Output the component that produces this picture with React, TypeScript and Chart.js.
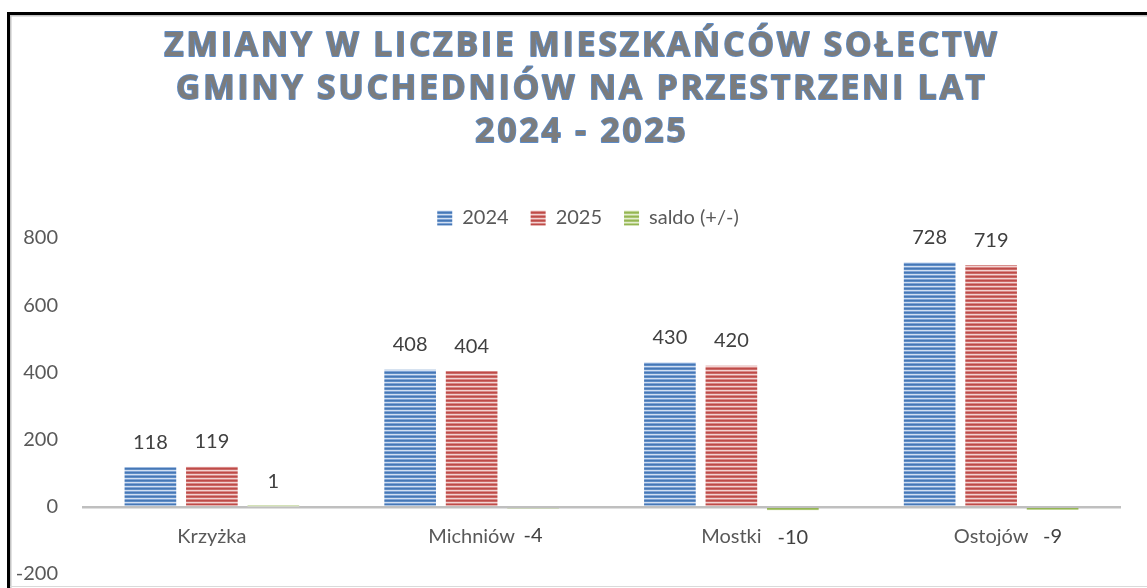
import React, { useEffect, useRef } from "react";
import { Chart, registerables } from "chart.js";

Chart.register(...registerables);

const titleLines = [
  "ZMIANY W LICZBIE MIESZKAŃCÓW SOŁECTW",
  "GMINY SUCHEDNIÓW NA PRZESTRZENI LAT",
  "2024 - 2025",
];
const categories = ["Krzyżka", "Michniów", "Mostki", "Ostojów"];
const seriesNames = ["2024", "2025", "saldo (+/-)"];
const values2024 = [118, 408, 430, 728];
const values2025 = [119, 404, 420, 719];
const valuesSaldo = [1, -4, -10, -9];
const yTicks = { min: -200, max: 800, step: 200 };

const FONT = "Lato, 'Open Sans', sans-serif";

function stripePattern(rows: string[]) {
  const c = document.createElement("canvas");
  c.width = 8;
  c.height = rows.length;
  const g = c.getContext("2d")!;
  rows.forEach((col, i) => {
    g.fillStyle = col;
    g.fillRect(0, i, 8, 1);
  });
  const main = document.createElement("canvas").getContext("2d")!;
  return main.createPattern(c, "repeat")!;
}

const framePlugin = {
  id: "frame",
  beforeDraw(chart: any) {
    const ctx = chart.ctx;
    ctx.save();
    ctx.fillStyle = "#ffffff";
    ctx.fillRect(0, 0, chart.width, chart.height);
    ctx.fillStyle = "#000000";
    ctx.fillRect(7, 12, chart.width - 7, 3);
    ctx.fillRect(7, 12, 3, chart.height - 12);
    ctx.fillStyle = "#C4C4C4";
    ctx.fillRect(10, 15, chart.width - 10, 1.5);
    ctx.fillRect(10, 15, 1.5, chart.height - 15);
    ctx.fillStyle = "#DADADA";
    ctx.fillRect(10, chart.height - 2, chart.width - 10, 1);
    ctx.restore();
  },
};

const titlePlugin = {
  id: "fancyTitle",
  afterDraw(chart: any) {
    const ctx = chart.ctx;
    ctx.save();
    ctx.textAlign = "center";
    ctx.textBaseline = "middle";
    (ctx as any).letterSpacing = "3px";
    ctx.font = `bold 32px 'Open Sans', sans-serif`;
    const w = ctx.measureText(titleLines[0]).width;
    const size = Math.round(((32 * 840) / w) * 10) / 10;
    ctx.font = `bold ${size}px 'Open Sans', sans-serif`;
    const ys = [47, 90, 133];
    titleLines.forEach((t, i) => {
      ctx.lineJoin = "round";
      ctx.lineWidth = 1.8;
      ctx.strokeStyle = "#5B8BC8";
      ctx.strokeText(t, 582, ys[i]);
      ctx.fillStyle = "#7C7C7C";
      ctx.fillText(t, 582, ys[i]);
    });
    ctx.restore();
  },
};

const labelsPlugin = {
  id: "valueLabels",
  afterDatasetsDraw(chart: any) {
    const ctx = chart.ctx;
    const xs = chart.scales.x;
    const ys = chart.scales.y;
    ctx.save();
    ctx.textAlign = "center";
    ctx.textBaseline = "middle";
    ctx.font = `20px ${FONT}`;
    ctx.fillStyle = "#595959";
    const zero = ys.getPixelForValue(0);
    categories.forEach((c, i) => {
      ctx.fillText(c, xs.getPixelForValue(i), zero + 30);
    });
    ctx.fillStyle = "#404040";
    chart.data.datasets.forEach((ds: any, di: number) => {
      const meta = chart.getDatasetMeta(di);
      meta.data.forEach((el: any, i: number) => {
        const v = ds.data[i];
        const y = v >= 0 ? el.y - 25 : el.y + 27;
        ctx.fillText(String(v), el.x, y);
      });
    });
    ctx.restore();
  },
};

export default function App() {
  const ref = useRef<HTMLCanvasElement>(null);
  useEffect(() => {
    const blue = stripePattern(["#4677B5", "#5F8DC6", "#D2DFF1", "#7EA3D5"]);
    const red = stripePattern(["#BE4B48", "#CB6966", "#F2D3D2", "#D88886"]);
    const green = stripePattern(["#94B553", "#AAC672", "#E4EDD0", "#BDD38E"]);
    const chart = new Chart(ref.current!, {
      type: "bar",
      data: {
        labels: categories,
        datasets: [
          { label: seriesNames[0], data: values2024, backgroundColor: blue },
          { label: seriesNames[1], data: values2025, backgroundColor: red },
          { label: seriesNames[2], data: valuesSaldo, backgroundColor: green },
        ],
      },
      options: {
        animation: false,
        responsive: false,
        devicePixelRatio: 1,
        layout: { padding: { left: 11, right: -18, top: 186, bottom: 14 } },
        datasets: { bar: { categoryPercentage: 0.71, barPercentage: 0.84 } },
        plugins: {
          title: { display: false },
          tooltip: { enabled: false },
          legend: {
            display: true,
            position: "top",
            labels: {
              boxWidth: 15,
              boxHeight: 15,
              padding: 22,
              color: "#595959",
              font: { family: FONT, size: 20 },
            },
          },
        },
        scales: {
          x: { display: false },
          y: {
            z: 1,
            position: "left",
            min: yTicks.min,
            max: yTicks.max,
            afterFit: (s: any) => {
              s.width = 71;
              s.paddingTop = 12;
              s.paddingBottom = 12;
            },
            border: { display: false },
            grid: {
              drawTicks: false,
              lineWidth: 2.5,
              color: (c: any) => (c.tick && c.tick.value === 0 ? "#BFBFBF" : "rgba(0,0,0,0)"),
            },
            ticks: {
              stepSize: yTicks.step,
              padding: 24,
              color: "#595959",
              font: { family: FONT, size: 20 },
            },
          },
          y2: {
            position: "right",
            display: true,
            min: yTicks.min,
            max: yTicks.max,
            afterFit: (s: any) => {
              s.width = 44;
            },
            border: { display: false },
            grid: { display: false, drawTicks: false },
            ticks: { display: false },
          },
        },
      },
      plugins: [framePlugin, titlePlugin, labelsPlugin],
    });
    return () => chart.destroy();
  }, []);
  return (
    <div style={{ position: "fixed", left: 0, top: 0, width: 1147, height: 588 }}>
      <canvas ref={ref} width={1147} height={588} style={{ width: 1147, height: 588 }} />
    </div>
  );
}
